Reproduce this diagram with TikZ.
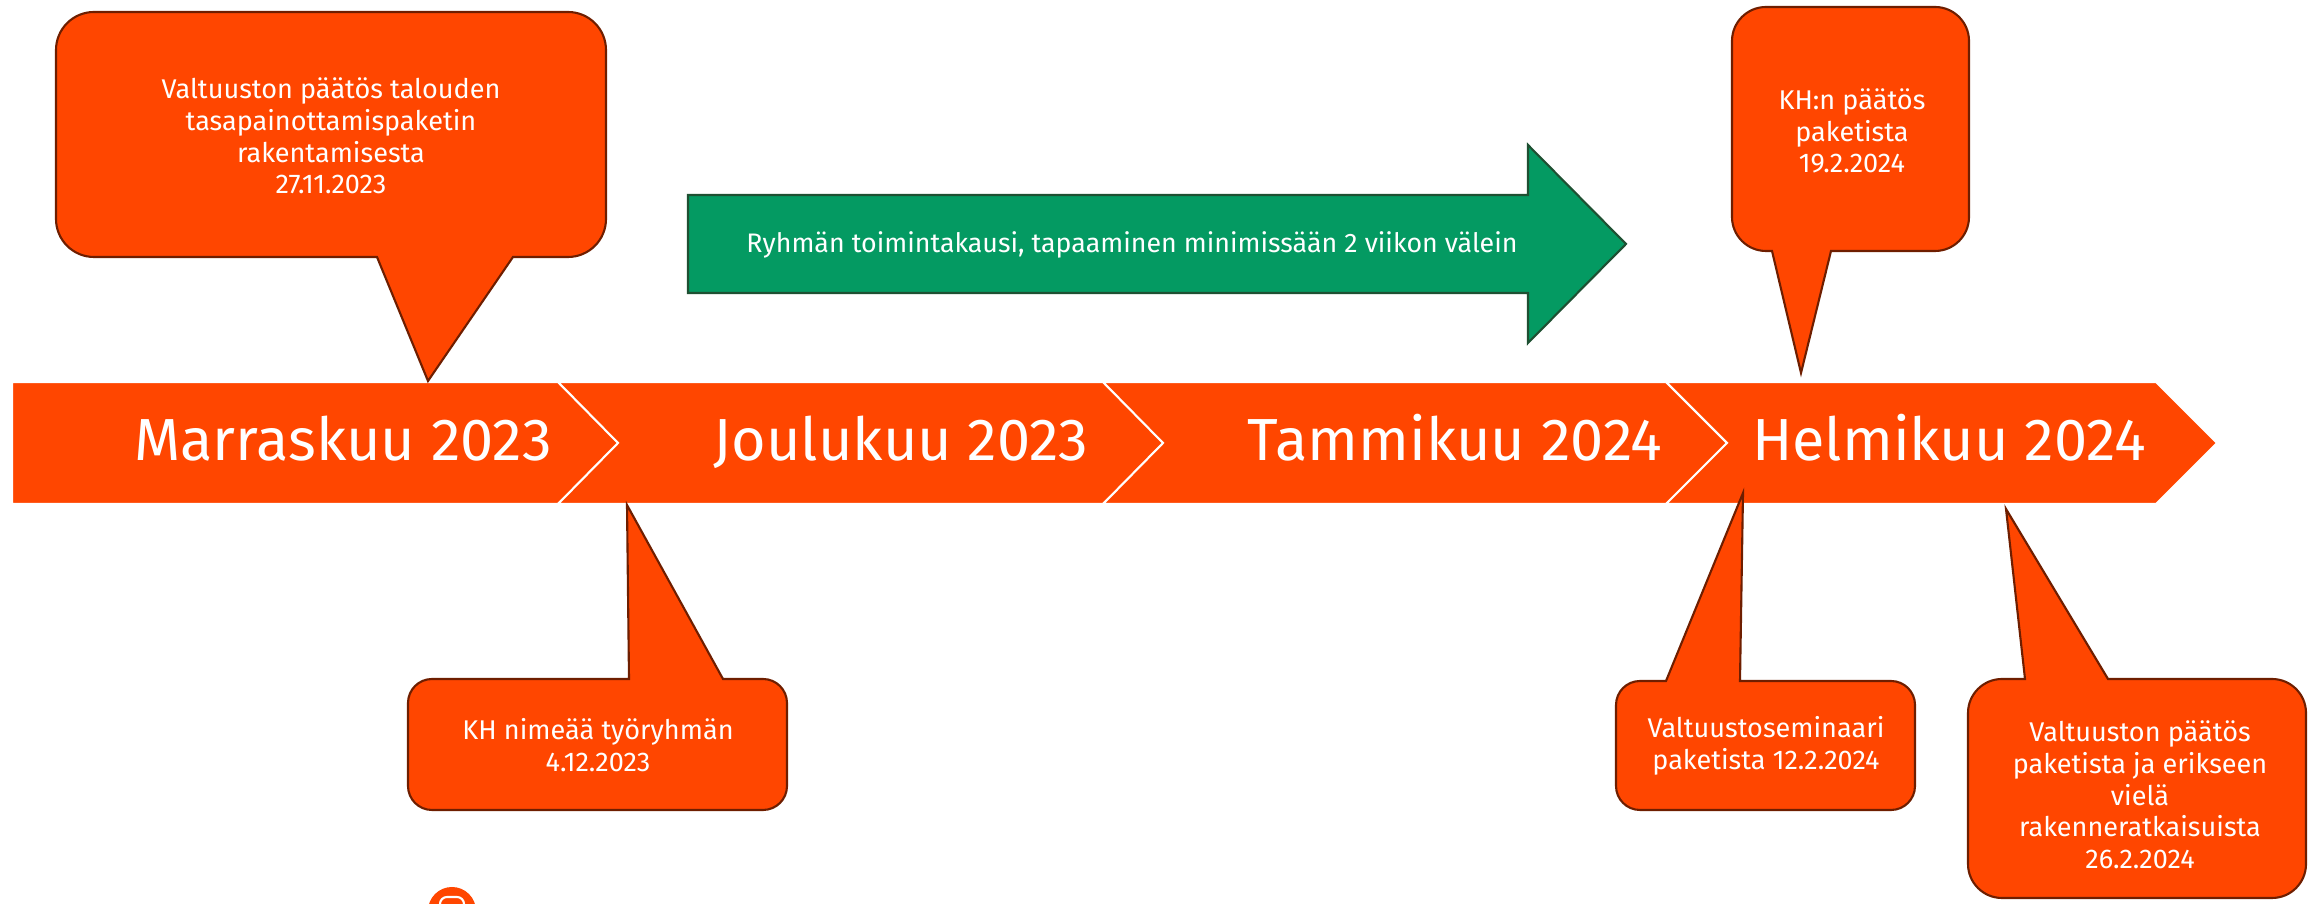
\documentclass[tikz,border=0pt]{standalone}
\usepackage{fontspec}
\setmainfont{Fira Sans}
\usetikzlibrary{calc}
\definecolor{barorange}{RGB}{255,70,0}
\definecolor{callborder}{RGB}{110,30,0}
\definecolor{periodgreen}{RGB}{4,154,98}
\definecolor{periodborder}{RGB}{30,80,50}
\tikzset{
  monthbar/.style={fill=barorange, draw=white, line width=0.6pt, line join=miter},
  monthtext/.style={text=white, anchor=base, inner sep=0pt, font=\fontsize{16.9}{20}\selectfont},
  callout/.style={fill=barorange, draw=callborder, line width=0.6pt},
  calltext/.style={text=white, align=center, inner sep=0pt, font=\fontsize{7.7}{9}\selectfont},
  period/.style={fill=periodgreen, draw=periodborder, line width=0.6pt},
  periodtext/.style={text=white, anchor=base, inner sep=0pt, font=\fontsize{7.62}{9}\selectfont}
}
% box (left,top,right,bottom,radius) and pointer (base1,base2,tipx,tipy)
\def\calldown(#1,#2,#3,#4,#5)(#6,#7,#8,#9){\draw[callout] ({#1+#5},#2) -- ({#3-#5},#2) arc (270:360:#5) -- (#3,{#4-#5}) arc (0:90:#5) -- (#7,#4) -- (#8,#9) -- (#6,#4) -- ({#1+#5},#4) arc (90:180:#5) -- (#1,{#2+#5}) arc (180:270:#5) -- cycle;}
\def\callup(#1,#2,#3,#4,#5)(#6,#7,#8,#9){\draw[callout] ({#1+#5},#2) -- (#6,#2) -- (#8,#9) -- (#7,#2) -- ({#3-#5},#2) arc (270:360:#5) -- (#3,{#4-#5}) arc (0:90:#5) -- ({#1+#5},#4) arc (90:180:#5) -- (#1,{#2+#5}) arc (180:270:#5) -- cycle;}

\begin{document}
\begin{tikzpicture}[x=0.1mm, y=-0.1mm]
		\useasboundingbox (0,0) rectangle (2318,904);
		\clip (0,0) rectangle (2318,904);
		
		%%%%% months %%%%%
		\foreach \xa/\xb/\nd/\xt/\name/\month in {12/558/0/343/nov/Marraskuu 2023, 558/1103/60/901/dec/Joulukuu 2023, 1103/1666/60/1455/jan/Tammikuu 2024, 1666/2156/61/1949/feb/Helmikuu 2024}{
			\draw[monthbar] (\xa,382) -- (\xb,382) -- ({\xb+61},443) -- (\xb,504) -- (\xa,504) -- ({\xa+\nd},443) -- cycle;
			\node[monthtext] (\name) at (\xt,461) {\month};
		}
		
		%%%%% group period %%%%%
		\draw[period] (688,195) -- (1528,195) -- (1528,145) -- (1626,244) -- (1528,343) -- (1528,293) -- (688,293) -- cycle;
		\node[periodtext] (period) at (1132,253) {Ryhmän toimintakausi, tapaaminen minimissään 2 viikon välein};
		
		%%%%% callouts above %%%%%
		\calldown(56,12,606,257,38)(377,513,428,381)
		\node[calltext] (start) at (331,136) {Valtuuston päätös talouden\\tasapainottamispaketin\\rakentamisesta\\27.11.2023};
		
		\calldown(1732,7,1969,251,34)(1772,1831,1801,373)
		\node[calltext] (khdecision) at (1852,131) {KH:n päätös\\paketista\\19.2.2024};
		
		%%%%% callouts below %%%%%
		\callup(408,679,787,810,24)(629,723,627,505)
		\node[calltext] (workgroup) at (598,745) {KH nimeää työryhmän\\4.12.2023};
		
		\callup(1616,681,1915,810,24)(1666,1740,1743,493)
		\node[calltext] (seminar) at (1766,746) {Valtuustoseminaari\\paketista 12.2.2024};
		
		\callup(1968,679,2306,898,34)(2025,2108,2006,509)
		\node[calltext] (final) at (2140,795) {Valtuuston päätös\\paketista ja erikseen\\vielä\\rakenneratkaisuista\\26.2.2024};
		
		%%%%% footer icon %%%%%
		\fill[barorange] (452,911) circle (24);
		\draw[white, line width=0.6pt, rounded corners=2pt] (440,897) rectangle (464,921);
\end{tikzpicture}
\end{document}
